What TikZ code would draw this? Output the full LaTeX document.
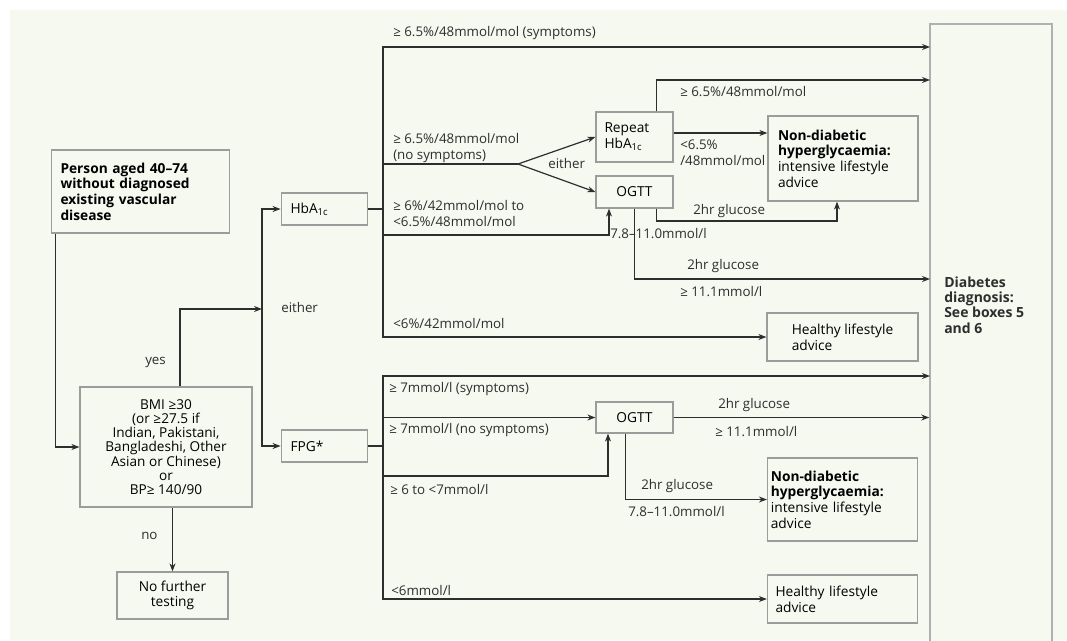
\documentclass[tikz,border=0pt]{standalone}
\usepackage{fontspec}
\setmainfont{Open Sans}
\usetikzlibrary{positioning,arrows.meta}
\definecolor{paper}{HTML}{F5F9EF}
\definecolor{boxline}{HTML}{9C9C9C}
\definecolor{ink}{HTML}{2E2E2E}
\tikzset{
  pw/.style={draw=boxline, line width=0.9pt, fill=paper, font=\fontsize{10.3}{11.8}\selectfont, inner sep=0pt, align=left},
  pw bold/.style={pw, font=\fontsize{10.3}{11.8}\selectfont\bfseries},
  pw arr/.style={-{Stealth[length=6pt, width=4.5pt]}, line width=0.9pt, ink},
  pw ln/.style={line width=0.9pt, ink},
  pw lab/.style={font=\fontsize{10}{12}\selectfont, text=ink, anchor=west, inner sep=0pt, align=left},
}
\begin{document}
\begin{tikzpicture}[x=0.75pt, y=-0.75pt,
  test/.style={pw, text width=51pt, inner xsep=7pt, minimum height=24pt},
  ogtt/.style={pw, align=center, minimum width=57.75pt, minimum height=24pt}]
  \useasboundingbox (0,0) rectangle (1067,640);
  \clip (0,0) rectangle (1067,640);
  \fill[paper] (10,10) rectangle (1067,640);
  % entry and risk check
  \node[pw bold, text width=120pt, inner xsep=7pt, minimum height=62.25pt] (person) at (140.5,191.5) {Person aged 40--74\\without diagnosed\\existing vascular\\disease};
  \node[pw, align=center, minimum width=129pt, minimum height=90pt, font=\fontsize{10.2}{10.6}\selectfont] (bmi) at (166,447) {BMI ≥30\\(or ≥27.5 if\\Indian, Pakistani,\\Bangladeshi, Other\\Asian or Chinese)\\or\\BP≥ 140/90};
  \node[pw, align=center, minimum width=83.25pt, minimum height=35.25pt] (nft) at (172.5,595.5) {No further\\testing};
  \node[test] (hba) at (324.5,209) {HbA\textsubscript{1c}};
  \node[test] (fpg) at (324.5,446) {FPG*};
  % second tests
  \node[pw, text width=45pt, inner xsep=6.4pt, minimum height=37.5pt] (rep) at (634.5,137) {Repeat\\HbA\textsubscript{1c}};
  \node[ogtt] (og1) at (634.5,192) {OGTT};
  \node[ogtt, minimum height=23.25pt] (og2) at (634.5,417.5) {OGTT};
  % outcomes
  \node[pw, text width=97.5pt, inner xsep=7.5pt, minimum height=63.75pt] (nd1) at (843,158.5) {\textbf{Non-diabetic}\\\textbf{hyperglycaemia:}\\intensive lifestyle\\advice};
  \node[pw, minimum width=113.25pt, minimum height=36pt] (hl1) at (842.5,337) {Healthy lifestyle\\advice};
  \node[pw, text width=107.5pt, inner xsep=2.5pt, minimum height=62.25pt] (nd2) at (842.5,499.5) {\textbf{Non-diabetic}\\\textbf{hyperglycaemia:}\\intensive lifestyle\\advice};
  \node[pw, text width=100.5pt, inner xsep=6pt, minimum height=36pt] (hl2) at (842.5,599) {Healthy lifestyle\\advice};
  \node[pw, draw=boxline!80, line width=1.2pt, minimum width=91.5pt, minimum height=477pt] (diag) at (991,342) {};
  \node[pw lab, font=\fontsize{10.5}{11.5}\selectfont\bfseries] (diagtxt) at (944,305) {Diabetes\\diagnosis:\\See boxes 5\\and 6};
  % junctions
  \coordinate (either) at (262,309);
  \coordinate (hj) at (383,209);
  \coordinate (fj) at (383,446);
  \coordinate (fork) at (518,164);
  \coordinate (k1) at (609,235);
  \coordinate (k2) at (837,221);
  \coordinate (k3) at (608,476);
  \coordinate (d1) at (930,47);
  \coordinate (d2) at (930,80);
  \coordinate (d3) at (930,279);
  \coordinate (d4) at (930,376);
  % left part
  \draw[pw arr] ([xshift=3.75pt]person.south west) |- (bmi.west);
  \draw[pw arr] ([xshift=10.5pt]bmi.north) |- (either);
  \draw[pw arr] (bmi.south -| nft.north) -- (nft.north);
  \draw[pw arr] (either) |- (hba.west);
  \draw[pw arr] (either) |- (fpg.west);
  \node[pw lab] (yes) at (145,362) {yes};
  \node[pw lab] (no) at (141,536) {no};
  \node[pw lab] (eith1) at (281,307) {either};
  % HbA1c lane
  \draw[pw ln] (hba.east) -- (hj);
  \draw[pw arr] (hj) |- (d1);
  \draw[pw ln] (hj) |- (fork);
  \draw[pw arr] (fork) -- (rep.west);
  \draw[pw arr] (fork) -- (og1.west);
  \draw[pw arr] (hj) |- (k1) -- (og1.south -| k1);
  \draw[pw arr] (hj) |- (hl1.west);
  \draw[pw arr] ([xshift=16.5pt]rep.north) |- (d2);
  \draw[pw arr] ([yshift=3pt]rep.east) -- ([yshift=3pt]rep.east -| nd1.west);
  \draw[pw arr] ([xshift=16.5pt]og1.south) |- (k2) -- (nd1.south -| k2);
  \draw[pw arr] (og1.south) |- (d3);
  \node[pw lab] (l1) at (393,33) {≥ 6.5\%/48mmol/mol (symptoms)};
  \node[pw lab] (l2) at (393,148) {≥ 6.5\%/48mmol/mol\\(no symptoms)};
  \node[pw lab] (l3) at (393,214) {≥ 6\%/42mmol/mol to\\<6.5\%/48mmol/mol};
  \node[pw lab] (l4) at (393,323) {<6\%/42mmol/mol};
  \node[pw lab] (eith2) at (548,163) {either};
  \node[pw lab] (l6) at (680,92) {≥ 6.5\%/48mmol/mol};
  \node[pw lab] (l7) at (680,153) {<6.5\%\\/48mmol/mol};
  \node[pw lab] (l8) at (693,211) {2hr glucose};
  \node[pw lab] (l9) at (610,234) {7.8--11.0mmol/l};
  \node[pw lab] (l10) at (687,266) {2hr glucose};
  \node[pw lab] (l11) at (680,292) {≥ 11.1mmol/l};
  % FPG lane
  \draw[pw ln] (fpg.east) -- (fj);
  \draw[pw arr] (fj) |- (d4);
  \draw[pw arr] (fj) |- (og2.west);
  \draw[pw arr] (fj) |- (k3) -- (og2.south -| k3);
  \draw[pw arr] (fj) |- (hl2.west);
  \draw[pw arr] (og2.east) -- (og2.east -| diag.west);
  \draw[pw arr] ([xshift=-7pt]og2.south) |- (nd2.west);
  \node[pw lab] (l12) at (389,389) {≥ 7mmol/l (symptoms)};
  \node[pw lab] (l13) at (389,430) {≥ 7mmol/l (no symptoms)};
  \node[pw lab] (l14) at (390,489) {≥ 6 to <7mmol/l};
  \node[pw lab] (l15) at (391,590) {<6mmol/l};
  \node[pw lab] (l16) at (718,405) {2hr glucose};
  \node[pw lab] (l17) at (715,432) {≥ 11.1mmol/l};
  \node[pw lab] (l18) at (641,486) {2hr glucose};
  \node[pw lab] (l19) at (628,512) {7.8--11.0mmol/l};
\end{tikzpicture}
\end{document}
